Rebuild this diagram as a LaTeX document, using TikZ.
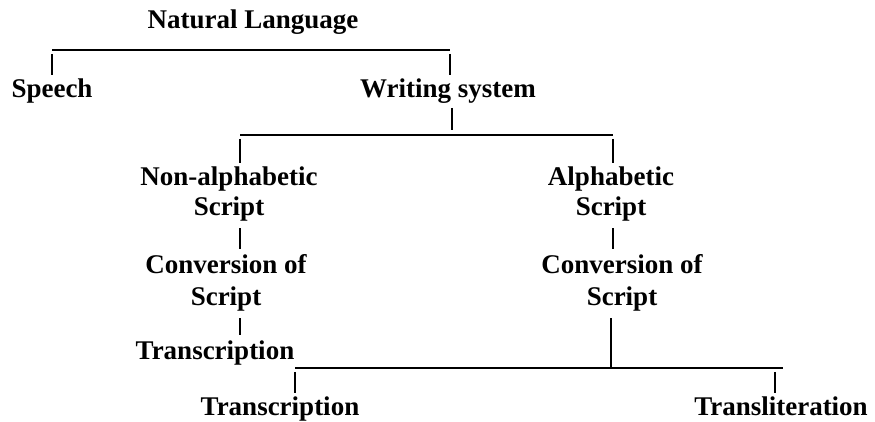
\documentclass[tikz,border=0pt]{standalone}
\usepackage{fontspec}
\setmainfont{Liberation Serif}
\begin{document}
\begin{tikzpicture}[x=0.5pt,y=-0.5pt,line width=0.8pt,
                    every node/.style={font=\bfseries\fontsize{13.5}{15}\selectfont,inner sep=1.5pt}]
  \tikzstyle{stem}=[shorten <=2pt]
  \tikzstyle{link}=[shorten <=1.5pt,shorten >=1pt]
  \tikzstyle{twoline}=[align=center,anchor=north]
  \useasboundingbox (0,0) rectangle (875,422);

  \node[anchor=base] (nat)      at (253,29)  {Natural Language};
  \node[anchor=base] (speech)   at (52,98)   {Speech};
  \node[anchor=base] (write)    at (448,98)  {Writing system};
  \node[twoline]     (nonalpha) at (229,163) {Non-alphabetic\\Script};
  \node[twoline]     (alpha)    at (611,163) {Alphabetic\\Script};
  \node[twoline]     (conv1)    at (226,251) {Conversion of\\[1pt]Script};
  \node[twoline]     (conv2)    at (622,251) {Conversion of\\[1pt]Script};
  \node[anchor=base] (trans1)   at (215,360) {Transcription};
  \node[anchor=base] (trans2)   at (280,416) {Transcription};
  \node[anchor=base] (translit) at (781,416) {Transliteration};

  % bars of the tree
  \coordinate (b1l) at (52,50);
  \coordinate (b1r) at (450,50);
  \coordinate (b2l) at (240,135);
  \coordinate (b2m) at (452,135);
  \coordinate (b2r) at (613,135);
  \coordinate (b3l) at (295,368);
  \coordinate (b3m) at (611,368);
  \coordinate (b3r) at (775,368);
  \coordinate (b3e) at (783,368);

  \draw (b1l) -- (b1r);
  \draw[stem] (b1l) -- (b1l |- speech.north);
  \draw[stem] (b1r) -- (b1r |- write.north);

  \draw[shorten >=2.5pt] (b2m |- write.south) -- (b2m);
  \draw (b2l) -- (b2r);
  \draw[stem] (b2l) -- (b2l |- nonalpha.north);
  \draw[stem] (b2r) -- (b2r |- alpha.north);

  \draw[link] (b2l |- nonalpha.south) -- (b2l |- conv1.north);
  \draw[link] (b2r |- alpha.south) -- (b2r |- conv2.north);
  \draw[link] (b2l |- conv1.south) -- (b2l |- trans1.north);

  \draw[shorten <=1.5pt] (b3m |- conv2.south) -- (b3m);
  \draw (b3l) -- (b3e);
  \draw[stem] (b3l) -- (b3l |- trans2.north);
  \draw[stem] (b3r) -- (b3r |- translit.north);
\end{tikzpicture}
\end{document}
